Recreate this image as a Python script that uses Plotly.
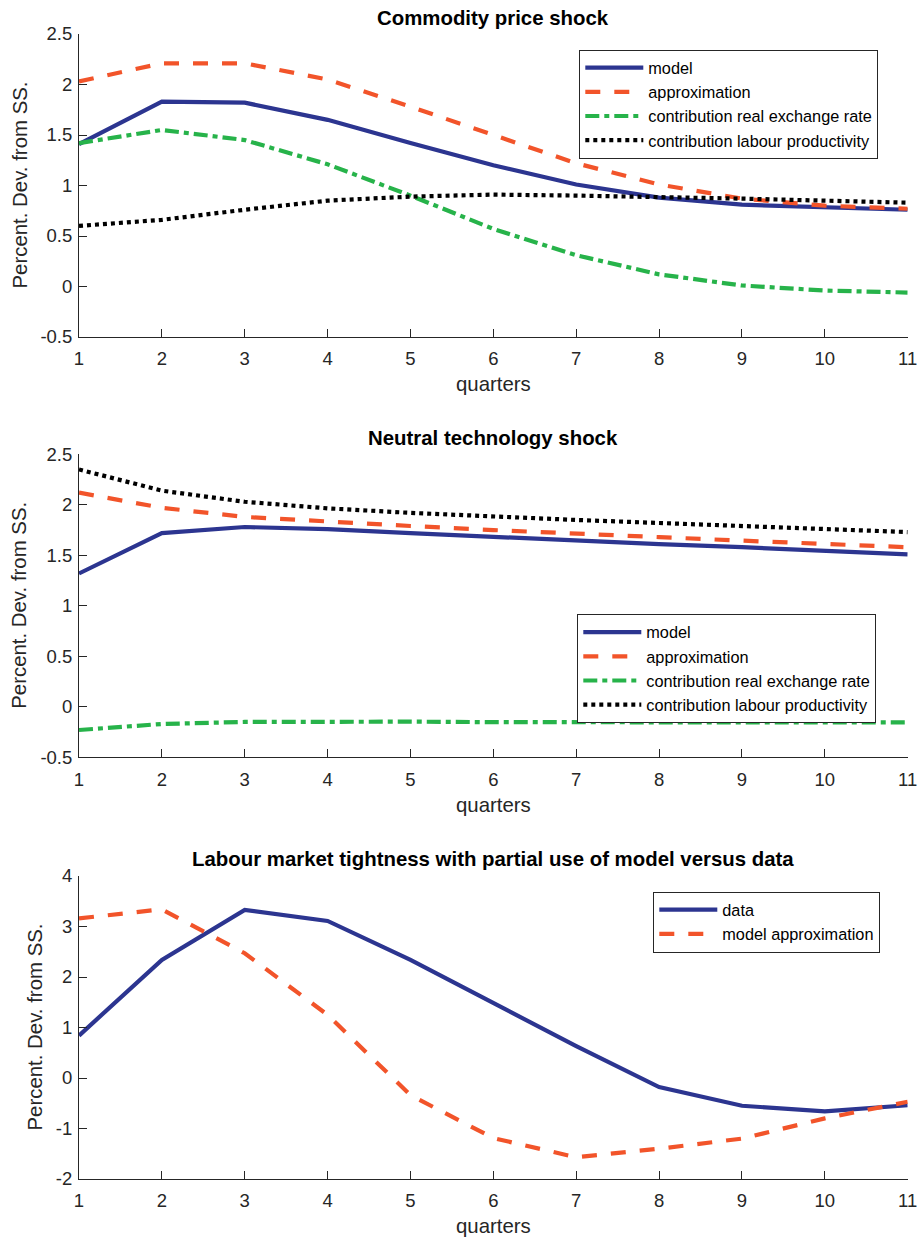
import plotly.graph_objects as go

W, H = 917, 1239
quarters = list(range(1, 12))
x_ticks = list(range(1, 12))

# Panel 1: Commodity price shock
p1_model = [1.41, 1.83, 1.82, 1.65, 1.42, 1.20, 1.01, 0.88, 0.81, 0.78, 0.76]
p1_approx = [2.03, 2.21, 2.21, 2.05, 1.78, 1.50, 1.22, 1.01, 0.87, 0.80, 0.77]
p1_rer = [1.42, 1.55, 1.45, 1.21, 0.90, 0.57, 0.31, 0.12, 0.01, -0.04, -0.06]
p1_lp = [0.60, 0.66, 0.76, 0.85, 0.89, 0.91, 0.90, 0.89, 0.87, 0.85, 0.83]

# Panel 2: Neutral technology shock
p2_model = [1.32, 1.72, 1.78, 1.76, 1.72, 1.68, 1.645, 1.61, 1.58, 1.545, 1.51]
p2_approx = [2.12, 1.97, 1.88, 1.83, 1.79, 1.75, 1.71, 1.68, 1.645, 1.61, 1.58]
p2_rer = [-0.23, -0.17, -0.15, -0.145, -0.147, -0.152, -0.155, -0.155, -0.155, -0.155, -0.155]
p2_lp = [2.35, 2.14, 2.03, 1.965, 1.92, 1.88, 1.85, 1.82, 1.79, 1.76, 1.73]

# Panel 3: Labour market tightness
p3_data = [0.84, 2.34, 3.33, 3.11, 2.34, 1.48, 0.63, -0.18, -0.55, -0.66, -0.54]
p3_approx = [3.16, 3.34, 2.47, 1.25, -0.34, -1.19, -1.57, -1.40, -1.20, -0.80, -0.47]

titles = ["Commodity price shock", "Neutral technology shock",
          "Labour market tightness with partial use of model versus data"]
y_ranges = [[-0.5, 2.5], [-0.5, 2.5], [-2, 4]]
y_tickvals = [[-0.5, 0, 0.5, 1, 1.5, 2, 2.5], [-0.5, 0, 0.5, 1, 1.5, 2, 2.5],
              [-2, -1, 0, 1, 2, 3, 4]]
y_ticktext = [["-0.5", "0", "0.5", "1", "1.5", "2", "2.5"],
              ["-0.5", "0", "0.5", "1", "1.5", "2", "2.5"],
              ["-2", "-1", "0", "1", "2", "3", "4"]]

BLUE = "#2c3590"
RED = "#f2542a"
GREEN = "#27b34a"
BLACK = "#000000"
AX = "#262626"
FONT = "Liberation Sans, Arial, Helvetica, sans-serif"

styles = {
    "model": dict(color=BLUE, width=4.2, dash="solid"),
    "approx": dict(color=RED, width=4.2, dash="15px,14px"),
    "rer": dict(color=GREEN, width=4.2, dash="14px,5px,5px,5px"),
    "lp": dict(color=BLACK, width=4.2, dash="4px,4px"),
}

fig = go.Figure()

def add(x, y, name, st, axis, legend):
    fig.add_trace(go.Scatter(x=x, y=y, name=name, mode="lines", line=st,
                             xaxis="x" + axis, yaxis="y" + axis, legend=legend))

add(quarters, p1_model, "model", styles["model"], "", "legend")
add(quarters, p1_approx, "approximation", styles["approx"], "", "legend")
add(quarters, p1_rer, "contribution real exchange rate", styles["rer"], "", "legend")
add(quarters, p1_lp, "contribution labour productivity", styles["lp"], "", "legend")

add(quarters, p2_model, "model", styles["model"], "2", "legend2")
add(quarters, p2_approx, "approximation", styles["approx"], "2", "legend2")
add(quarters, p2_rer, "contribution real exchange rate", styles["rer"], "2", "legend2")
add(quarters, p2_lp, "contribution labour productivity", styles["lp"], "2", "legend2")

add(quarters, p3_data, "data", styles["model"], "3", "legend3")
add(quarters, p3_approx, "model approximation", styles["approx"], "3", "legend3")

def py(p):
    return (H - p) / H

xdom = [79 / W, 907.7 / W]
ydoms = [[py(337), py(34)], [py(757.3), py(454.3)], [py(1179), py(876)]]

layout = dict(
    width=W, height=H, margin=dict(l=0, r=0, t=0, b=0, autoexpand=False),
    paper_bgcolor="white", plot_bgcolor="white",
    font=dict(family=FONT, size=18.5, color=AX),
    showlegend=True,
)

for i, ax in enumerate(["", "2", "3"]):
    layout["xaxis" + ax] = dict(
        domain=xdom, range=[1, 11], tickvals=x_ticks, ticktext=[str(v) for v in x_ticks],
        showline=True, linecolor=AX, linewidth=1, mirror=False,
        ticks="inside", ticklen=8, tickwidth=1, tickcolor=AX,
        showgrid=False, zeroline=False, anchor="y" + ax, automargin=False,
        ticklabeloverflow="allow", ticklabelstandoff=5,
        tickfont=dict(family=FONT, size=18.5, color=AX), fixedrange=True,
    )
    layout["yaxis" + ax] = dict(
        domain=ydoms[i], range=y_ranges[i], tickvals=y_tickvals[i], ticktext=y_ticktext[i],
        showline=True, linecolor=AX, linewidth=1, mirror=False,
        ticks="inside", ticklen=8, tickwidth=1, tickcolor=AX,
        showgrid=False, zeroline=False, anchor="x" + ax, automargin=False,
        ticklabeloverflow="allow", ticklabelstandoff=2,
        tickfont=dict(family=FONT, size=18.5, color=AX), fixedrange=True,
    )

leg_common = dict(bordercolor=AX, borderwidth=1, bgcolor="white",
                  font=dict(family=FONT, size=16.3, color="#000000"),
                  xanchor="left", yanchor="top", itemwidth=58,
                  tracegroupgap=0, itemclick=False, itemdoubleclick=False)
layout["legend"] = dict(leg_common, x=579.3 / W, y=py(49.5))
layout["legend2"] = dict(leg_common, x=577.3 / W, y=py(614))
layout["legend3"] = dict(leg_common, x=653.3 / W, y=py(891.5))

xc = (79 + 907.7) / 2 / W
annotations = []
title_y = [17.5, 437.5, 859]
xlab_y = [384, 805, 1226]
ylab_x = [19, 19, 34]
ylab_y = [185.5, 605.8, 1027.5]
for i in range(3):
    annotations.append(dict(text="<b>" + titles[i] + "</b>", x=xc, y=py(title_y[i]),
                            xref="paper", yref="paper", showarrow=False,
                            xanchor="center", yanchor="middle",
                            font=dict(family=FONT, size=20.4, color="#000000")))
    annotations.append(dict(text="quarters", x=xc, y=py(xlab_y[i]),
                            xref="paper", yref="paper", showarrow=False,
                            xanchor="center", yanchor="middle",
                            font=dict(family=FONT, size=20.4, color=AX)))
    annotations.append(dict(text="Percent. Dev. from SS.", x=ylab_x[i] / W, y=py(ylab_y[i]),
                            xref="paper", yref="paper", showarrow=False, textangle=-90,
                            xanchor="center", yanchor="middle",
                            font=dict(family=FONT, size=20.4, color=AX)))
layout["annotations"] = annotations

fig.update_layout(**layout)
fig.write_html("out.html", config={"displayModeBar": False},
               post_script="document.body.style.margin='0';document.body.style.overflow='hidden';")
